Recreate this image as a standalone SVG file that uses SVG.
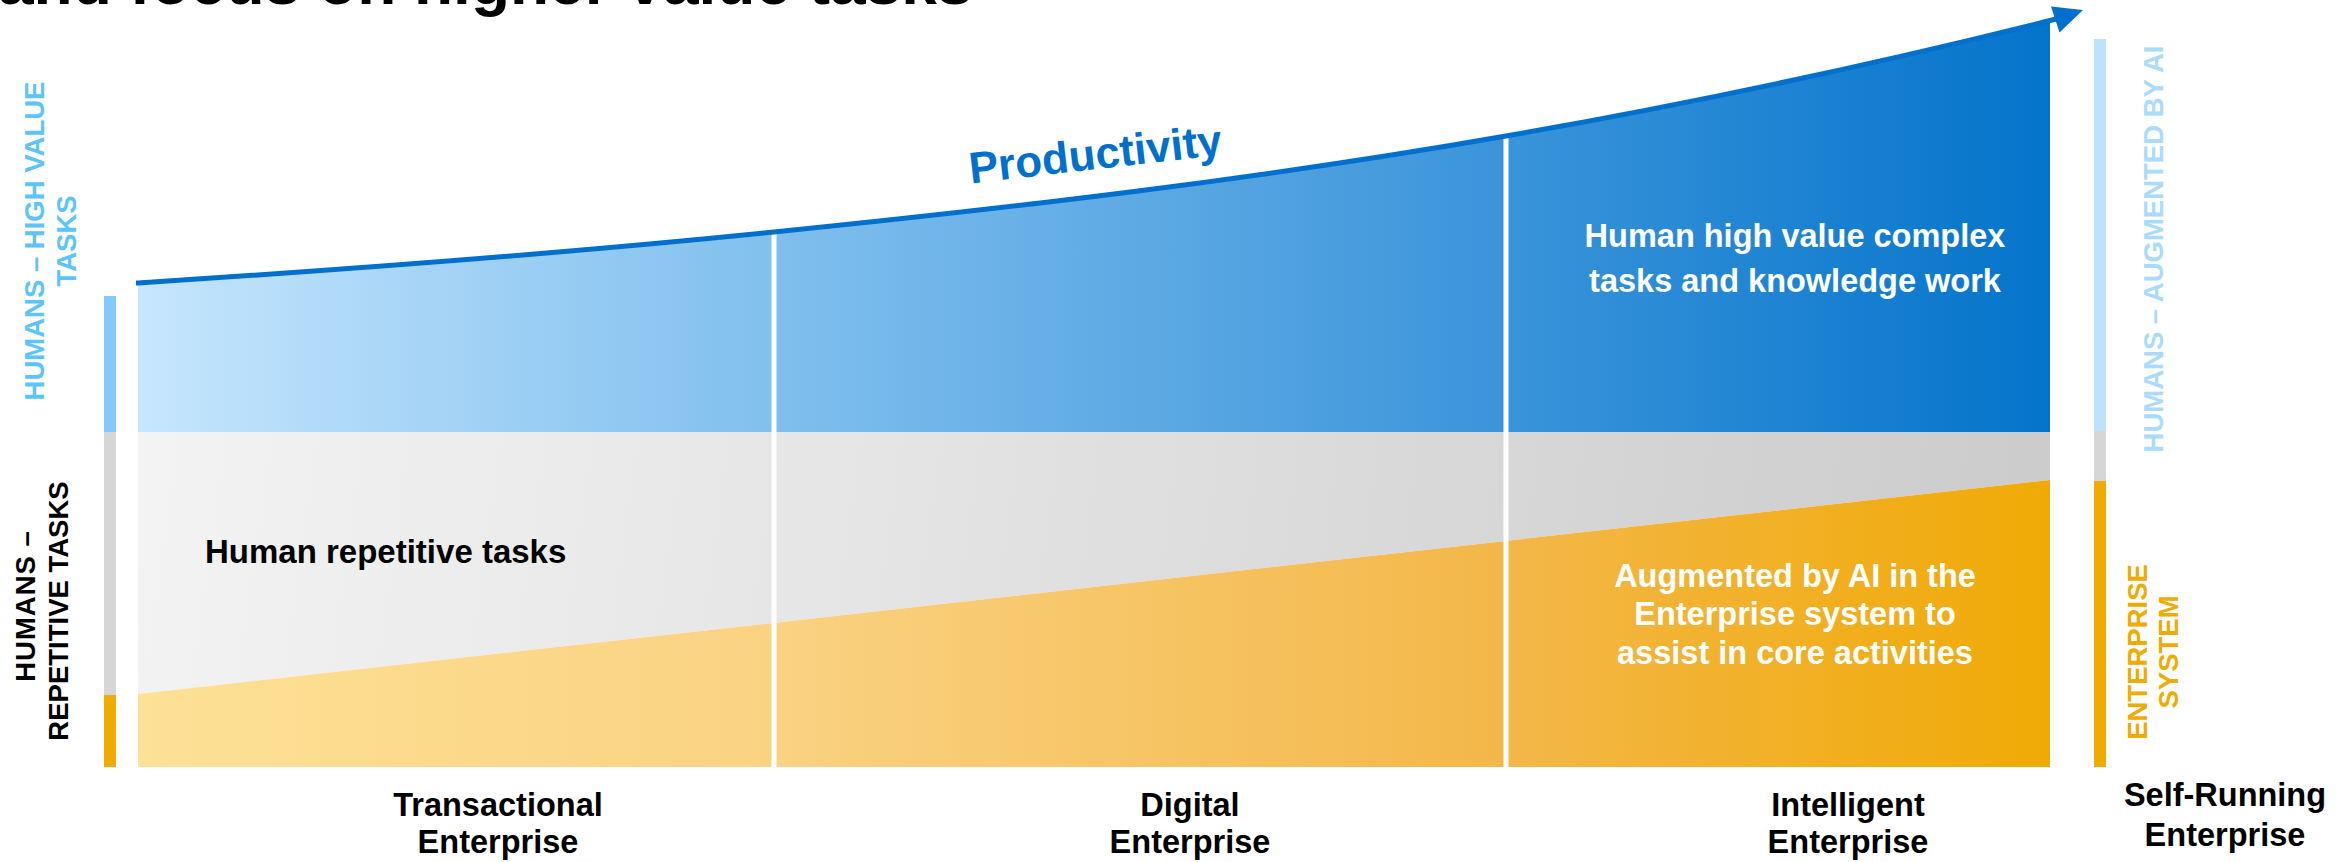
<svg xmlns="http://www.w3.org/2000/svg" width="2352" height="862" viewBox="0 0 2352 862">
  <defs>
    <linearGradient id="gBlue" gradientUnits="userSpaceOnUse" x1="138" y1="0" x2="2050" y2="0">
      <stop offset="0" stop-color="#c6e6fd"/>
      <stop offset="0.333" stop-color="#80bfee"/>
      <stop offset="0.716" stop-color="#3a94da"/>
      <stop offset="1" stop-color="#0474cb"/>
    </linearGradient>
    <linearGradient id="gGray" gradientUnits="userSpaceOnUse" x1="138" y1="432" x2="2050" y2="700">
      <stop offset="0" stop-color="#f3f3f3"/>
      <stop offset="0.35" stop-color="#e6e6e6"/>
      <stop offset="0.7" stop-color="#d7d7d7"/>
      <stop offset="1" stop-color="#cbcbcb"/>
    </linearGradient>
    <linearGradient id="gOrange" gradientUnits="userSpaceOnUse" x1="138" y1="0" x2="2050" y2="0">
      <stop offset="0" stop-color="#fde196"/>
      <stop offset="0.333" stop-color="#fad282"/>
      <stop offset="0.716" stop-color="#f3b748"/>
      <stop offset="1" stop-color="#f0aa05"/>
    </linearGradient>
    <style>
      .lbl { font-family: "Liberation Sans", Arial, sans-serif; font-weight: bold; font-size: 32.5px; }
      .vt { font-family: "Liberation Sans", Arial, sans-serif; font-weight: bold; font-size: 27.5px; text-anchor: middle; }
      .w { fill: #ffffff; }
      .k { fill: #000000; }
      .mid { text-anchor: middle; }
      .div { fill: #ffffff; }
    </style>
  </defs>

  <rect x="0" y="0" width="2352" height="862" fill="#ffffff"/>

  <g id="title">
    <text x="-2" y="4" font-family="Liberation Sans, Arial, sans-serif" font-weight="bold" font-size="64" fill="#000">and focus on higher value tasks</text>
  </g>

  <g id="band-high-value">
    <path d="M138,283 C350,269.3 562,253.6 774,232 C1018,207.2 1262,178.7 1506,136 C1687,104.3 1869,65.5 2050,20 L2050,432 L138,432 Z" fill="url(#gBlue)"/>
  </g>
  <g id="band-repetitive">
    <polygon points="138,432 2050,432 2050,480 138,694" fill="url(#gGray)"/>
  </g>
  <g id="band-enterprise-system">
    <polygon points="138,694 2050,480 2050,767 138,767" fill="url(#gOrange)"/>
  </g>

  <g id="dividers">
    <rect class="div" x="771.5" y="226" width="5" height="542"/>
    <rect class="div" x="1503.5" y="130" width="5" height="638"/>
  </g>

  <g id="left-bar">
    <rect x="104" y="296" width="12" height="136" fill="#84c9fc"/>
    <rect x="104" y="432" width="12" height="263" fill="#d6d6d6"/>
    <rect x="104" y="695" width="12" height="72" fill="#f0ab00"/>
  </g>
  <g id="right-bar">
    <rect x="2094" y="39" width="12" height="392" fill="#bde2fc"/>
    <rect x="2094" y="431" width="12" height="50" fill="#d6d6d6"/>
    <rect x="2094" y="481" width="12" height="286" fill="#f0ab00"/>
  </g>

  <g id="connectors">
    <path d="M136,283.1 L138,283 C350,269.3 562,253.6 774,232 C1018,207.2 1262,178.7 1506,136 C1690,103.8 1874,64.7 2056,19" fill="none" stroke="#0070cc" stroke-width="5"/>
    <polygon points="2083,10 2051,6.5 2059.5,32.5" fill="#0070cc"/>
  </g>

  <g id="productivity-label">
    <text class="lbl mid" x="1097" y="169" fill="#0070cc" transform="rotate(-6.5 1097 169)" style="font-size:44px">Productivity</text>
  </g>

  <g id="label-high-value">
    <text class="lbl w mid" x="1795" y="247">Human high value complex</text>
    <text class="lbl w mid" x="1795" y="292">tasks and knowledge work</text>
  </g>
  <g id="label-repetitive">
    <text class="lbl k" x="205" y="563" style="font-size:33px">Human repetitive tasks</text>
  </g>
  <g id="label-augmented">
    <text class="lbl w mid" x="1795" y="587">Augmented by AI in the</text>
    <text class="lbl w mid" x="1795" y="625">Enterprise system to</text>
    <text class="lbl w mid" x="1795" y="664">assist in core activities</text>
  </g>

  <g id="stage-transactional">
    <text class="lbl k mid" x="498" y="816">Transactional</text>
    <text class="lbl k mid" x="498" y="853">Enterprise</text>
  </g>
  <g id="stage-digital">
    <text class="lbl k mid" x="1190" y="816">Digital</text>
    <text class="lbl k mid" x="1190" y="853">Enterprise</text>
  </g>
  <g id="stage-intelligent">
    <text class="lbl k mid" x="1848" y="816">Intelligent</text>
    <text class="lbl k mid" x="1848" y="853">Enterprise</text>
  </g>
  <g id="stage-self-running">
    <text class="lbl k mid" x="2225" y="806">Self-Running</text>
    <text class="lbl k mid" x="2225" y="846">Enterprise</text>
  </g>

  <g id="axis-humans-high-value">
    <text class="vt" fill="#5cc4fa" transform="translate(44,241) rotate(-90)">HUMANS – HIGH VALUE</text>
    <text class="vt" fill="#5cc4fa" transform="translate(76,241) rotate(-90)">TASKS</text>
  </g>
  <g id="axis-humans-repetitive">
    <text class="vt" fill="#000000" transform="translate(35,606) rotate(-90)" letter-spacing="1">HUMANS –</text>
    <text class="vt" fill="#000000" transform="translate(68,611) rotate(-90)">REPETITIVE TASKS</text>
  </g>
  <g id="axis-humans-augmented">
    <text class="vt" fill="#a9dbfc" transform="translate(2163,249) rotate(-90)">HUMANS – AUGMENTED BY AI</text>
  </g>
  <g id="axis-enterprise-system">
    <text class="vt" fill="#f0ab00" transform="translate(2147,652) rotate(-90)">ENTERPRISE</text>
    <text class="vt" fill="#f0ab00" transform="translate(2178,652) rotate(-90)">SYSTEM</text>
  </g>
</svg>
